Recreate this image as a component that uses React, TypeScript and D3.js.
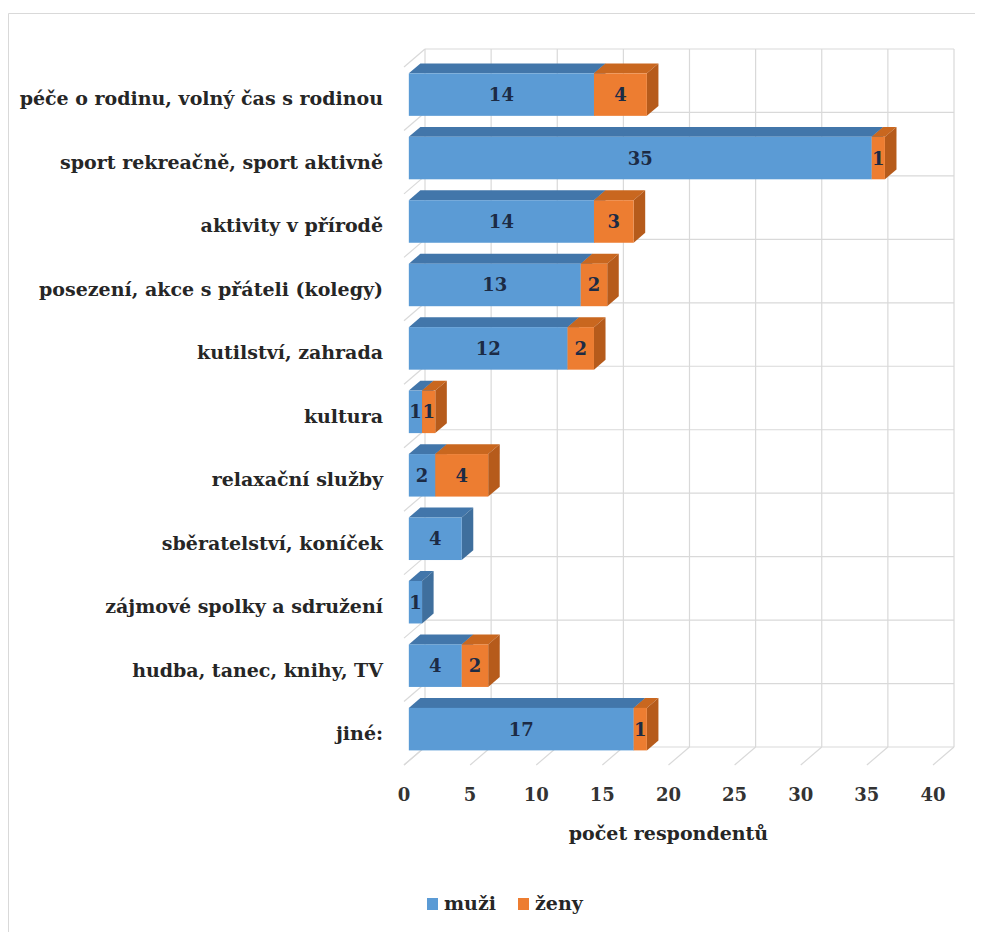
import React from "react";
import * as d3 from "d3";

// Leisure activities by gender
const categories = [
  "péče o rodinu, volný čas s rodinou",
  "sport rekreačně, sport aktivně",
  "aktivity v přírodě",
  "posezení, akce s přáteli (kolegy)",
  "kutilství, zahrada",
  "kultura",
  "relaxační služby",
  "sběratelství, koníček",
  "zájmové spolky a sdružení",
  "hudba, tanec, knihy, TV",
  "jiné:",
];
const muzi = [14, 35, 14, 13, 12, 1, 2, 4, 1, 4, 17];
const zeny = [4, 1, 3, 2, 2, 1, 4, 0, 0, 2, 1];
const xTicks = [0, 5, 10, 15, 20, 25, 30, 35, 40];
const seriesNames = ["muži", "ženy"];
const axisTitle = "počet respondentů";

const W = 982;
const H = 932;

// 3D box geometry: back wall and depth vector (back -> front)
const FRONT_X0 = 404;
const AXIS_LEN = 529;
const DEPTH_DX = 21;
const DEPTH_DY = 18;
const WALL_TOP = 49;
const WALL_BOTTOM = 747;
const Z_FRONT = 0.23; // bar front face depth (0 = floor front, 1 = back wall)
const Z_BACK = 0.78;

const FONT = "'DejaVu Serif', 'Liberation Serif', serif";

const palette = {
  blue: { front: "#5b9bd5", top: "#4276aa", side: "#3f6f9d" },
  orange: { front: "#ed7d31", top: "#c9671f", side: "#b65b1b" },
};

export default function App() {
  const x = d3.scaleLinear().domain([0, 40]).range([0, AXIS_LEN]);
  const y = d3
    .scaleBand<string>()
    .domain(categories)
    .range([WALL_TOP, WALL_BOTTOM])
    .paddingInner(0.33)
    .paddingOuter(0.165);
  const step = y.step();

  // project (value, back-wall y, depth z) to screen
  const px = (v: number, z: number) => FRONT_X0 + x(v) + DEPTH_DX * z;
  const py = (yb: number, z: number) => yb + DEPTH_DY * (1 - z);

  const grid = "#d9d9d9";

  const boundaries = d3.range(categories.length + 1).map((i) => WALL_TOP + i * step);

  const bars = categories.map((c, i) => {
    const segs = [
      { a: 0, b: muzi[i], v: muzi[i], col: palette.blue },
      { a: muzi[i], b: muzi[i] + zeny[i], v: zeny[i], col: palette.orange },
    ].filter((s) => s.v > 0);
    const yb0 = y(c)!;
    const yb1 = yb0 + y.bandwidth();
    const ft = py(yb0, Z_FRONT);
    const fb = py(yb1, Z_FRONT);
    const bt = py(yb0, Z_BACK);
    const bb = py(yb1, Z_BACK);
    return (
      <g key={c}>
        {segs.map((s, k) => {
          const fa = px(s.a, Z_FRONT);
          const fbx = px(s.b, Z_FRONT);
          const ba = px(s.a, Z_BACK);
          const bbx = px(s.b, Z_BACK);
          return (
            <g key={k}>
              <polygon
                points={`${fa},${ft} ${fbx},${ft} ${bbx},${bt} ${ba},${bt}`}
                fill={s.col.top}
              />
              <polygon
                points={`${fbx},${ft} ${bbx},${bt} ${bbx},${bb} ${fbx},${fb}`}
                fill={s.col.side}
              />
              <rect x={fa} y={ft} width={fbx - fa} height={fb - ft} fill={s.col.front} />
            </g>
          );
        })}
        {segs.map((s, k) => (
          <text
            key={"t" + k}
            x={(px(s.a, Z_FRONT) + px(s.b, Z_FRONT)) / 2}
            y={(ft + fb) / 2}
            dy="0.36em"
            textAnchor="middle"
            fontFamily={FONT}
            fontWeight="bold"
            fontSize={18}
            fill="#1c2b45"
          >
            {s.v}
          </text>
        ))}
        <text
          x={383}
          y={(ft + fb) / 2 + 4}
          dy="0.36em"
          textAnchor="end"
          fontFamily={FONT}
          fontWeight="bold"
          fontSize={19}
          fill="#262626"
        >
          {c}
        </text>
      </g>
    );
  });

  const titleX = FRONT_X0 + AXIS_LEN / 2;

  return (
    <svg
      width={W}
      height={H}
      style={{ position: "absolute", left: 0, top: 0, background: "#fff" }}
    >
      {/* outer frame */}
      <line x1={8.5} y1={13.5} x2={975} y2={13.5} stroke="#d9d9d9" />
      <line x1={8.5} y1={13.5} x2={8.5} y2={H} stroke="#d9d9d9" />

      {/* back wall verticals */}
      {xTicks.map((t) => (
        <line
          key={"v" + t}
          x1={px(t, 1)}
          x2={px(t, 1)}
          y1={WALL_TOP}
          y2={WALL_BOTTOM}
          stroke={grid}
          strokeWidth={1.2}
        />
      ))}
      {/* back wall horizontals and side wall diagonals */}
      {boundaries.map((b, i) => (
        <g key={"h" + i}>
          <line x1={px(0, 1)} x2={px(40, 1)} y1={b} y2={b} stroke={grid} strokeWidth={1.2} />
          <line
            x1={px(0, 1)}
            y1={b}
            x2={px(0, 0)}
            y2={py(b, 0)}
            stroke={grid}
            strokeWidth={1.2}
          />
        </g>
      ))}
      {/* floor diagonals */}
      {xTicks.map((t) => (
        <line
          key={"f" + t}
          x1={px(t, 1)}
          y1={WALL_BOTTOM}
          x2={px(t, 0)}
          y2={py(WALL_BOTTOM, 0)}
          stroke={grid}
          strokeWidth={1.2}
        />
      ))}

      {bars}

      {/* x tick labels */}
      {xTicks.map((t) => (
        <text
          key={"xl" + t}
          x={px(t, 0)}
          y={795}
          dy="0.36em"
          textAnchor="middle"
          fontFamily={FONT}
          fontWeight="bold"
          fontSize={18}
          fill="#333"
        >
          {t}
        </text>
      ))}
      <text
        x={titleX}
        y={833}
        dy="0.36em"
        textAnchor="middle"
        fontFamily={FONT}
        fontWeight="bold"
        fontSize={19}
        fill="#262626"
      >
        {axisTitle}
      </text>

      {/* legend */}
      <rect x={427} y={898} width={11} height={12} fill={palette.blue.front} />
      <text x={444} y={903} dy="0.36em" fontFamily={FONT} fontWeight="bold" fontSize={19} fill="#262626">
        {seriesNames[0]}
      </text>
      <rect x={518} y={898} width={11} height={12} fill={palette.orange.front} />
      <text x={535} y={903} dy="0.36em" fontFamily={FONT} fontWeight="bold" fontSize={19} fill="#262626">
        {seriesNames[1]}
      </text>
    </svg>
  );
}
